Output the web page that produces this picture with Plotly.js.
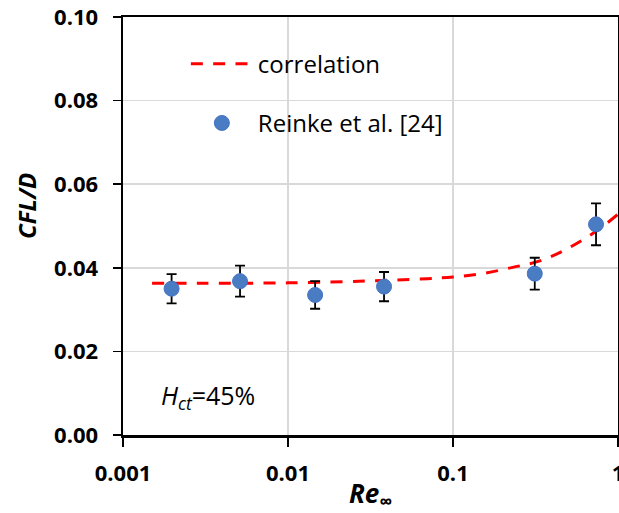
<!DOCTYPE html>
<html>
<head>
<meta charset="utf-8">
<script src="https://cdn.plot.ly/plotly-3.0.1.min.js"></script>
<style>html,body{margin:0;padding:0;background:#fff;}#chart{width:619px;height:513px;}</style>
</head>
<body>
<div id="chart"></div>
<script>
// Reinke et al. [24] measurements
const reinkeRe = [0.00197, 0.00512, 0.0146, 0.0382, 0.313, 0.736];
const reinkeCFL = [0.0350, 0.0368, 0.0335, 0.0355, 0.0386, 0.0504];
const reinkeErr = [0.0035, 0.0037, 0.0033, 0.0035, 0.0038, 0.0050];

// correlation curve
const corrRe = [0.0015, 0.003, 0.01, 0.04, 0.07, 0.1, 0.15, 0.23, 0.34, 0.5, 0.74, 1.0];
const corrCFL = [0.0363, 0.0363, 0.0364, 0.0370, 0.0374, 0.0378, 0.0386, 0.0401, 0.0417, 0.0447, 0.0488, 0.0528];

// axis ticks
const xTickVals = [0.001, 0.01, 0.1, 1];
const xTickText = ['0.001', '0.01', '0.1', '1'];
const yTickVals = [0, 0.02, 0.04, 0.06, 0.08, 0.10];

const FONT = 'Open Sans, Liberation Sans, sans-serif';

const traces = [
  {
    x: corrRe, y: corrCFL, type: 'scatter', mode: 'lines', name: 'correlation',
    legendgroup: 'a',
    line: {color: '#ff0000', width: 3, dash: '12px,10.3px', shape: 'spline'}
  },
  {
    x: reinkeRe, y: reinkeCFL, type: 'scatter', mode: 'markers', name: 'Reinke et al. [24]',
    legendgroup: 'b',
    marker: {color: '#4a7cc4', size: 15, line: {color: '#4472c4', width: 1}},
    error_y: {type: 'data', array: reinkeErr, visible: true, color: '#000', thickness: 1.8, width: 5}
  }
];

const layout = {
  width: 619, height: 513,
  margin: {l: 123, r: 1, t: 17, b: 78},
  paper_bgcolor: '#fff', plot_bgcolor: '#fff',
  showlegend: true,
  font: {family: FONT, color: '#000'},
  xaxis: {
    type: 'log', range: [-3, 0],
    tickvals: xTickVals, ticktext: xTickText,
    ticks: 'outside', ticklen: 9, tickwidth: 1.75, tickcolor: '#000',
    showline: true, linecolor: '#000', linewidth: 2.5, mirror: true,
    showgrid: true, gridcolor: '#d9d9d9', gridwidth: 1.5,
    zeroline: false,
    tickfont: {family: FONT, size: 22, color: '#000', weight: 'bold'},
    ticklabeloverflow: 'allow',
    ticklabelstandoff: 8,
    title: {text: '<b><i>Re<sub>∞</sub></i></b>', font: {family: FONT, size: 26, color: '#000'}, standoff: 14}
  },
  yaxis: {
    range: [0, 0.1], tickvals: yTickVals, tickformat: '.2f',
    ticks: 'outside', ticklen: 8, tickwidth: 1.75, tickcolor: '#000',
    showline: true, linecolor: '#000', linewidth: 2.5, mirror: true,
    showgrid: true, gridcolor: '#d9d9d9', gridwidth: 1.5,
    zeroline: false,
    tickfont: {family: FONT, size: 22, color: '#000', weight: 'bold'},
    ticklabelstandoff: 10
  },
  xaxis2: {
    type: 'log', range: [-3, 0], overlaying: 'x', anchor: 'y',
    tickvals: xTickVals, ticks: 'inside', ticklen: 5, tickwidth: 1.75, tickcolor: '#000',
    showticklabels: false, showgrid: false, showline: false, zeroline: false
  },
  yaxis2: {
    range: [0, 0.1], overlaying: 'y', anchor: 'x', side: 'left',
    tickvals: yTickVals, ticks: 'inside', ticklen: 8, tickwidth: 1.75, tickcolor: '#000',
    showticklabels: false, showgrid: false, showline: false, zeroline: false
  },
  legend: {
    x: 0.127, y: 0.941, xanchor: 'left', yanchor: 'top',
    orientation: 'v', traceorder: 'grouped', tracegroupgap: 25,
    itemwidth: 62,
    bgcolor: 'rgba(0,0,0,0)', borderwidth: 0,
    font: {family: FONT, size: 24, color: '#000'}
  },
  shapes: [
    {type: 'rect', xref: 'paper', yref: 'paper', x0: 0.016, x1: 0.798, y0: 0.673, y1: 0.951,
     fillcolor: '#fff', line: {width: 0}, layer: 'between'},
    {type: 'rect', xref: 'paper', yref: 'paper', x0: 0.07, x1: 0.354, y0: 0.006, y1: 0.189,
     fillcolor: '#fff', line: {width: 0}, layer: 'between'}
  ],
  annotations: [
    {text: '<b><i>CFL/D</i></b>', xref: 'paper', yref: 'paper', x: -0.194, y: 0.548,
     xanchor: 'center', yanchor: 'middle', textangle: -90, showarrow: false,
     font: {family: FONT, size: 24, color: '#000'}},
    {text: '<i>H<sub>ct</sub></i>=45%', xref: 'paper', yref: 'paper', x: 0.0727, y: 0.091,
     xanchor: 'left', yanchor: 'middle', showarrow: false,
     font: {family: FONT, size: 25, color: '#000'}}
  ]
};

Plotly.newPlot('chart', traces, layout, {displayModeBar: false, staticPlot: true});
</script>
</body>
</html>
